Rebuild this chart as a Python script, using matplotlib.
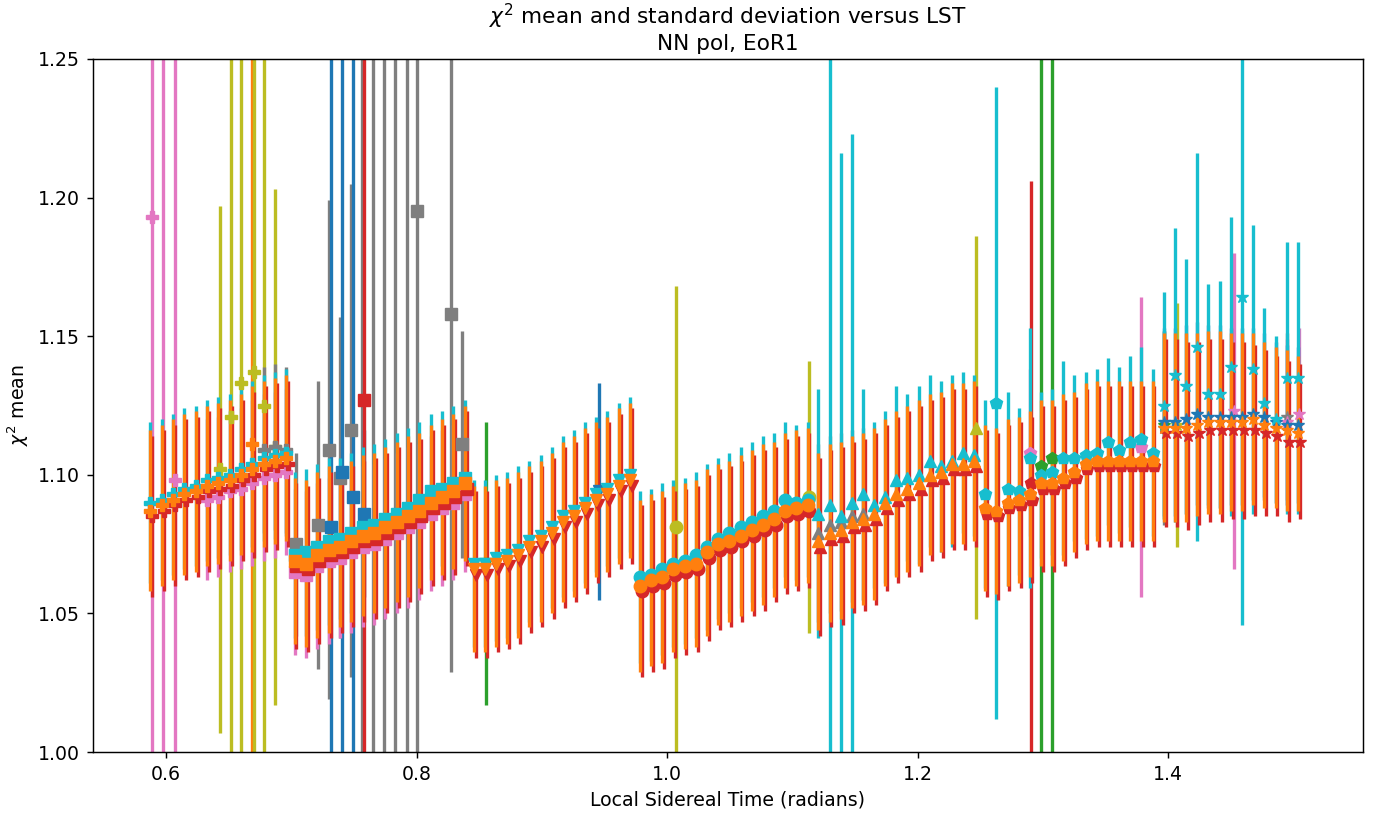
import numpy as np
import matplotlib
matplotlib.use("Agg")
import matplotlib.pyplot as plt

nan = float("nan")

# ---------------- data (LST in radians, chi^2 mean, std) ----------------
lst1 = [0.5873, 0.5964, 0.6054, 0.6145, 0.6235, 0.6326, 0.6416, 0.6507, 0.6597, 0.6688, 0.6778, 0.6869, 0.6959]
lst2 = [0.7025, 0.7116, 0.7206, 0.7297, 0.7387, 0.7478, 0.7568, 0.7659, 0.7749, 0.7840, 0.7930, 0.8021, 0.8111, 0.8202, 0.8292, 0.8383]
lst3 = [0.8455, 0.8544, 0.8633, 0.8722, 0.8811, 0.8900, 0.8989, 0.9078, 0.9167, 0.9256, 0.9345, 0.9434, 0.9523, 0.9612, 0.9701]
lst4 = [0.9781, 0.9870, 0.9960, 1.0049, 1.0138, 1.0228, 1.0317, 1.0406, 1.0496, 1.0585, 1.0674, 1.0763, 1.0853, 1.0942, 1.1031, 1.1120]
lst5 = [1.1207, 1.1296, 1.1385, 1.1474, 1.1563, 1.1652, 1.1740, 1.1829, 1.1918, 1.2007, 1.2096, 1.2185, 1.2274, 1.2363, 1.2452]
lst6 = [1.2539, 1.2628, 1.2717, 1.2806, 1.2895, 1.2984, 1.3073, 1.3162, 1.3251, 1.3340, 1.3429, 1.3518, 1.3607, 1.3696, 1.3785, 1.3875]
lst7 = [1.3963, 1.4052, 1.4142, 1.4231, 1.4321, 1.4410, 1.4500, 1.4589, 1.4678, 1.4768, 1.4857, 1.4947, 1.5036]

# main (orange) series
orange1 = [1.087, 1.089, 1.091, 1.093, 1.094, 1.096, 1.097, 1.098, 1.100, 1.102, 1.104, 1.105, 1.106]
orange2 = [1.069, 1.068, 1.071, 1.073, 1.074, 1.076, 1.078, 1.079, 1.081, 1.083, 1.085, 1.087, 1.090, 1.092, 1.094, 1.097]
orange3 = [1.066, 1.066, 1.068, 1.069, 1.071, 1.074, 1.076, 1.079, 1.083, 1.085, 1.088, 1.091, 1.093, 1.096, 1.098]
orange4 = [1.060, 1.062, 1.063, 1.066, 1.067, 1.068, 1.072, 1.075, 1.076, 1.078, 1.080, 1.082, 1.084, 1.087, 1.088, 1.089]
orange5 = [1.076, 1.079, 1.080, 1.083, 1.084, 1.086, 1.090, 1.093, 1.095, 1.097, 1.100, 1.101, 1.104, 1.104, 1.105]
orange6 = [1.088, 1.087, 1.090, 1.091, 1.093, 1.097, 1.097, 1.099, 1.101, 1.104, 1.105, 1.105, 1.105, 1.105, 1.105, 1.105]
orange7 = [1.117, 1.117, 1.117, 1.118, 1.119, 1.119, 1.119, 1.119, 1.120, 1.118, 1.117, 1.116, 1.115]

err1 = [0.029, 0.029, 0.029, 0.029, 0.029, 0.029, 0.029, 0.029, 0.029, 0.030, 0.030, 0.030, 0.030]
err2 = [0.030, 0.030, 0.030, 0.030, 0.029, 0.029, 0.029, 0.029, 0.029, 0.029, 0.029, 0.028, 0.028, 0.028, 0.028, 0.028]
err3 = [0.030, 0.030, 0.030, 0.030, 0.030, 0.029, 0.029, 0.029, 0.029, 0.029, 0.029, 0.028, 0.028, 0.028, 0.028]
err4 = [0.031, 0.031, 0.031, 0.030, 0.030, 0.030, 0.030, 0.029, 0.029, 0.029, 0.029, 0.029, 0.028, 0.028, 0.028, 0.028]
err5 = [0.032, 0.032, 0.032, 0.031, 0.031, 0.031, 0.030, 0.030, 0.030, 0.030, 0.029, 0.029, 0.029, 0.029, 0.029]
err6 = [0.030, 0.030, 0.030, 0.030, 0.030, 0.030, 0.030, 0.030, 0.029, 0.029, 0.029, 0.029, 0.029, 0.029, 0.029, 0.029]
err7 = [0.034, 0.034, 0.034, 0.033, 0.033, 0.033, 0.032, 0.032, 0.031, 0.030, 0.029, 0.029, 0.028]

# cyan series
cyan1 = [1.090, 1.091, 1.093, 1.095, 1.096, 1.098, 1.099, 1.100, 1.102, 1.104, 1.106, 1.107, 1.108]
cyan2 = [1.071, 1.072, 1.074, 1.076, 1.077, 1.079, 1.081, 1.082, 1.084, 1.086, 1.088, 1.091, 1.094, 1.095, 1.097, 1.099]
cyan3 = [1.068, 1.068, 1.070, 1.071, 1.073, 1.076, 1.078, 1.081, 1.085, 1.087, 1.090, 1.093, 1.095, 1.098, 1.100]
cyan4 = [1.063, 1.064, 1.066, 1.068, 1.069, 1.071, 1.074, 1.077, 1.079, 1.081, 1.083, 1.085, 1.087, 1.091, 1.090, 1.091]
cyan5 = [1.086, 1.089, 1.085, 1.090, 1.093, 1.089, 1.092, 1.098, 1.099, 1.100, 1.105, 1.103, 1.105, 1.108, 1.107]
cyan5_err = [0.045, 0.25, 0.131, 0.133, 0.038, 0.030, 0.031, 0.034, 0.030, 0.032, 0.031, 0.031, 0.031, 0.029, 0.029]
cyan6 = [1.093, 1.126, 1.095, 1.094, 1.106, 1.100, 1.101, 1.106, 1.106, 1.107, 1.108, 1.112, 1.109, 1.112, 1.113, 1.108]
cyan6_err = [0.034, 0.114, 0.035, 0.030, 0.047, 0.030, 0.030, 0.035, 0.030, 0.030, 0.030, 0.030, 0.030, 0.031, 0.033, 0.030]
cyan7 = [1.125, 1.136, 1.132, 1.146, 1.129, 1.129, 1.139, 1.164, 1.138, 1.126, 1.120, 1.135, 1.135]
cyan7_err = [0.041, 0.053, 0.046, 0.070, 0.040, 0.041, 0.054, 0.118, 0.052, 0.034, 0.030, 0.049, 0.049]

# red series
red1 = [1.085, 1.087, 1.089, 1.091, 1.092, 1.094, 1.095, 1.096, 1.098, 1.100, 1.102, 1.103, 1.104]
red2 = [1.067, 1.066, 1.069, 1.071, 1.072, 1.074, 1.076, 1.077, 1.079, 1.081, 1.083, 1.085, 1.088, 1.090, 1.092, 1.095]
red3 = [1.064, 1.064, 1.066, 1.067, 1.069, 1.072, 1.074, 1.077, 1.081, 1.083, 1.086, 1.089, 1.091, 1.094, 1.096]
red4 = [1.058, 1.060, 1.061, 1.064, 1.065, 1.066, 1.070, 1.073, 1.074, 1.076, 1.078, 1.080, 1.082, 1.085, 1.086, 1.087]
red5 = [1.074, 1.077, 1.078, 1.081, 1.082, 1.084, 1.088, 1.091, 1.093, 1.095, 1.098, 1.099, 1.102, 1.102, 1.103]
red6 = [1.086, 1.085, 1.088, 1.089, 1.091, 1.095, 1.095, 1.097, 1.099, 1.102, 1.103, 1.103, 1.103, 1.103, 1.103, 1.103]
red7 = [1.115, 1.115, 1.114, 1.115, 1.116, 1.116, 1.116, 1.116, 1.116, 1.115, 1.114, 1.112, 1.112]
red_lst_offset = 0.0015  # red days sit slightly later in LST

# pink / gray / blue partial series
pink1 = [nan, nan, nan, nan, nan, 1.091, 1.092, 1.094, 1.095, 1.097, 1.099, 1.100, 1.101]
pink2 = [1.065, 1.064, 1.067, 1.069, 1.070, 1.072, 1.074, 1.075, 1.077, 1.079, 1.081, 1.083, 1.086, 1.088, 1.090, 1.093]
gray1 = [nan, nan, nan, nan, nan, nan, nan, nan, nan, nan, 1.109, 1.110, 1.109]
gray5 = [1.079, 1.082, 1.083, 1.085, 1.086, nan, nan, nan, nan, nan, nan, nan, nan, nan, nan]
blue7 = [1.119, 1.119, 1.120, 1.122, 1.121, 1.121, 1.121, 1.121, 1.122, 1.121, 1.119, 1.118, 1.118]

# isolated points (segment number, colour, LST, mean, std)
out_seg = [1, 1, 1, 1, 1, 1, 1, 1, 1, 1,
           2, 2, 2, 2, 2, 2, 2, 2, 2, 2, 2, 2, 2, 2, 2, 2, 2, 2,
           3, 3, 4, 4, 5,
           6, 6, 6, 6, 6,
           7, 7, 7, 7, 7, 7, 7]
out_color = ["pink", "pink", "pink", "olive", "olive", "olive", "orange", "olive", "olive", "olive",
             "gray", "gray", "gray", "gray", "gray", "gray", "gray", "gray", "gray", "gray", "gray", "gray", "gray",
             "blue", "blue", "blue", "blue", "red",
             "green", "blue", "olive", "olive", "olive",
             "pink", "red", "green", "green", "pink",
             "green", "gray", "olive", "pink", "gray", "pink", "pink"]
out_lst = [0.5883, 0.5975, 0.6068, 0.6429, 0.6517, 0.6599, 0.6681, 0.6700, 0.6781, 0.6871,
           0.7035, 0.7212, 0.7296, 0.7388, 0.7475, 0.7562, 0.7649, 0.7741, 0.7825, 0.7921, 0.8005, 0.8276, 0.8364,
           0.7312, 0.7404, 0.7495, 0.7576, 0.7582,
           0.8555, 0.9452, 1.0068, 1.1130, 1.2466,
           1.2895, 1.2903, 1.2984, 1.3073, 1.3785,
           1.3968, 1.3963, 1.4073, 1.4524, 1.4947, 1.4950, 1.5046]
out_val = [1.193, 1.300, 1.098, 1.102, 1.121, 1.133, 1.111, 1.137, 1.125, 1.110,
           1.075, 1.082, 1.109, 1.099, 1.116, 1.300, 1.300, 1.300, 1.300, 1.300, 1.195, 1.158, 1.111,
           1.081, 1.101, 1.092, 1.086, 1.127,
           1.068, 1.094, 1.081, 1.092, 1.117,
           1.108, 1.097, 1.103, 1.106, 1.110,
           1.118, 1.117, 1.118, 1.123, 1.121, 1.119, 1.122]
out_err = [0.25, 0.35, 0.20, 0.095, 0.20, 0.20, 0.20, 0.20, 0.20, 0.093,
           0.033, 0.052, 0.090, 0.058, 0.089, 0.35, 0.35, 0.35, 0.35, 0.35, 0.25, 0.129, 0.041,
           0.25, 0.25, 0.25, 0.030, 0.25,
           0.051, 0.039, 0.087, 0.049, 0.069,
           0.030, 0.109, 0.25, 0.25, 0.054,
           0.034, 0.035, 0.044, 0.057, 0.030, 0.030, 0.031]

# ---------------- styling ----------------
palette = {"blue": "#1f77b4", "orange": "#ff7f0e", "green": "#2ca02c", "red": "#d62728",
           "purple": "#9467bd", "brown": "#8c564b", "pink": "#e377c2", "gray": "#7f7f7f",
           "olive": "#bcbd22", "cyan": "#17becf"}
seg_markers = {1: "P", 2: "s", 3: "v", 4: "o", 5: "^", 6: "p", 7: "*"}

segments = {
    1: dict(lst=lst1, orange=orange1, err=err1, cyan=cyan1, cyan_err=err1, red=red1, extra=[("pink", pink1), ("gray", gray1)]),
    2: dict(lst=lst2, orange=orange2, err=err2, cyan=cyan2, cyan_err=err2, red=red2, extra=[("pink", pink2)]),
    3: dict(lst=lst3, orange=orange3, err=err3, cyan=cyan3, cyan_err=err3, red=red3, extra=[]),
    4: dict(lst=lst4, orange=orange4, err=err4, cyan=cyan4, cyan_err=err4, red=red4, extra=[]),
    5: dict(lst=lst5, orange=orange5, err=err5, cyan=cyan5, cyan_err=cyan5_err, red=red5, extra=[("gray", gray5)]),
    6: dict(lst=lst6, orange=orange6, err=err6, cyan=cyan6, cyan_err=cyan6_err, red=red6, extra=[]),
    7: dict(lst=lst7, orange=orange7, err=err7, cyan=cyan7, cyan_err=cyan7_err, red=red7, extra=[("blue", blue7)]),
}

s = 1.3   # original rendered at ~130 dpi
fs = 1.36  # text scale
plt.rcParams.update({
    "font.family": ["DejaVu Sans"],
    "font.size": 10 * fs,
    "axes.linewidth": 0.8 * s,
    "xtick.major.size": 3.5 * s, "ytick.major.size": 3.5 * s,
    "xtick.major.width": 0.8 * s, "ytick.major.width": 0.8 * s,
    "xtick.major.pad": 3.5 * s, "ytick.major.pad": 3.5 * s,
    "axes.labelpad": 4 * s,
    "axes.titlepad": 6.5,
})
fig = plt.figure(figsize=(13.81, 8.16), dpi=100)
ax = fig.add_axes([0.0673, 0.0784, 0.9197, 0.8493])

ms = 9
elw = 2.4

def eb(x, y, e, color, marker):
    ax.errorbar(x, y, yerr=e, fmt=marker, color=palette[color], ms=ms,
                elinewidth=elw, capsize=0, linestyle="none")

# isolated points first (drawn beneath the main bars)
for sg, c, x, v, e in zip(out_seg, out_color, out_lst, out_val, out_err):
    eb([x], [v], [e], c, seg_markers[sg])

for k, seg in segments.items():
    m = seg_markers[k]
    for color, vals in seg["extra"]:
        eb(seg["lst"], vals, seg["err"], color, m)
    eb(seg["lst"], seg["cyan"], seg["cyan_err"], "cyan", m)
    eb(np.array(seg["lst"]) + red_lst_offset, seg["red"], seg["err"], "red", m)
    eb(seg["lst"], seg["orange"], seg["err"], "orange", m)

ax.set_xlim(0.5415, 1.5555)
ax.set_ylim(1.00, 1.25)
ax.set_yticks([1.00, 1.05, 1.10, 1.15, 1.20, 1.25])
ax.set_yticklabels(["1.00", "1.05", "1.10", "1.15", "1.20", "1.25"])
ax.set_xticks([0.6, 0.8, 1.0, 1.2, 1.4])
ax.set_xlabel("Local Sidereal Time (radians)")
ax.set_ylabel(r"$\chi^2$ mean")
ax.set_title(r"$\chi^2$ mean and standard deviation versus LST" + "\nNN pol, EoR1", fontsize=15.6)

fig.savefig("out.png", dpi=100)
